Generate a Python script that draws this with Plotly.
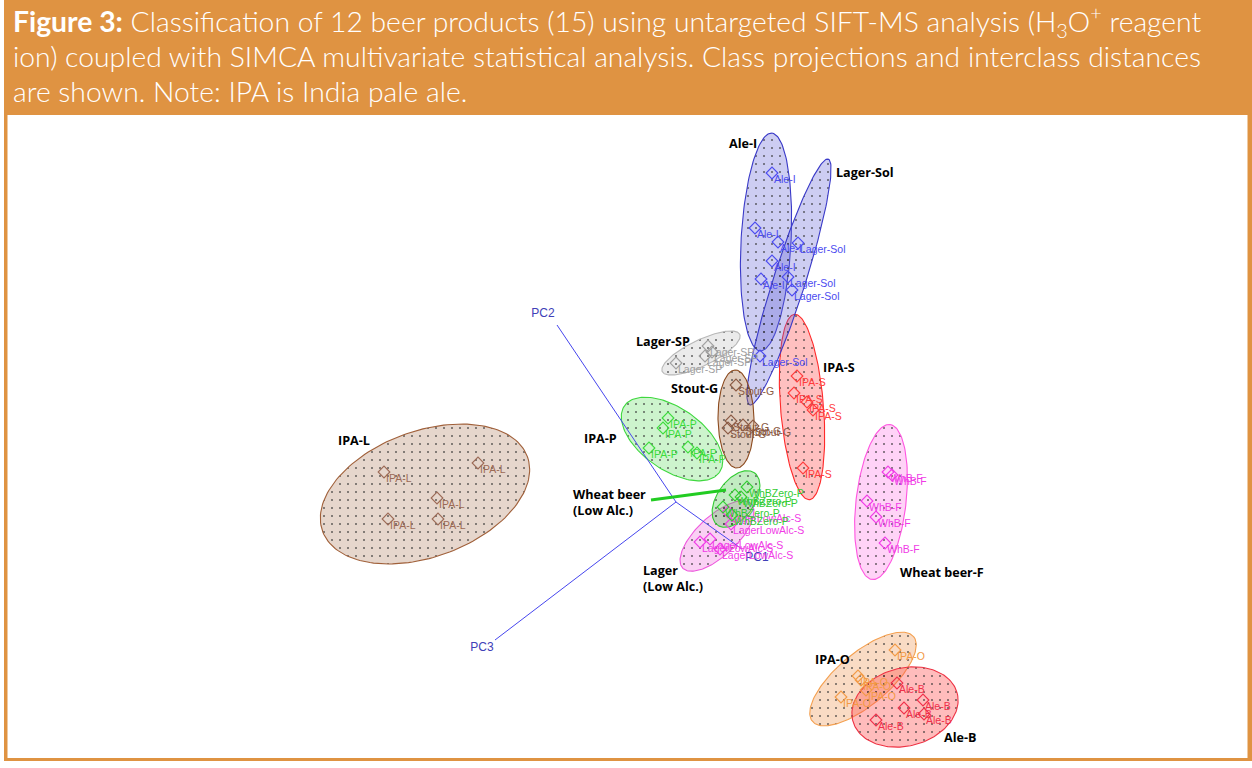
import numpy as np
import plotly.graph_objects as go

W, H = 1252, 768

# ---------------- data (picture coordinates) ----------------
class_names = ["IPA-L", "IPA-O", "Ale-B", "Wheat beer-F", "IPA-S", "Ale-I", "Lager-Sol",
               "Lager-SP", "Stout-G", "IPA-P", "Lager (Low Alc.)", "Wheat beer (Low Alc.)"]
point_codes = ["IPA-L", "IPA-O", "Ale-B", "WhB-F", "IPA-S", "Ale-I", "Lager-Sol",
               "Lager-SP", "Stout-G", "IPA-P", "LagerLowAlc-S", "WhBZero-P"]

# class confidence ellipses: centre, semi-axes, tilt (deg, counter-clockwise on screen)
ell_cx = [425, 863, 905, 881, 802, 766, 789, 701, 736, 672, 717, 736]
ell_cy = [494, 679, 707, 502, 407, 242, 282, 353, 419, 439, 536, 499]
ell_a = [109, 66, 54, 78, 93, 109, 129, 43, 49, 58, 47, 32]
ell_b = [63, 26, 39, 25, 21.5, 25, 16, 13, 18, 31, 20, 18.7]
ell_ang = [20, 40, 15, 83.4, 94.6, 87, 72.3, 25.7, 91, -35, 43, 55]

# sample projections per class
ipa_l_x = [384, 478, 437, 388, 438]
ipa_l_y = [472, 463, 498, 519, 519]
ipa_o_x = [895, 858, 861, 841, 866]
ipa_o_y = [650, 676, 680, 697, 690]
ale_b_x = [897, 923, 904, 924, 876]
ale_b_y = [683, 700, 708, 714, 720]
whb_f_x = [888, 892, 867, 876, 885]
whb_f_y = [472, 475, 501, 517, 543]
ipa_s_x = [797, 794, 807, 813, 803]
ipa_s_y = [376, 393, 402, 410, 468]
ale_i_x = [772, 755, 778, 772, 761]
ale_i_y = [173, 228, 242, 261, 279]
lager_sol_x = [798, 788, 792, 760]
lager_sol_y = [243, 277, 290, 356]
lager_sp_x = [676, 708, 705, 712]
lager_sp_y = [363, 346, 356, 352]
stout_g_x = [736, 731, 728, 743, 753]
stout_g_y = [385, 421, 428, 425, 426]
ipa_p_x = [668, 663, 649, 688, 697]
ipa_p_y = [418, 428, 448, 447, 453]
lager_low_x = [728, 731, 700, 710, 720]
lager_low_y = [512, 524, 542, 539, 549]
whb_zero_x = [747, 735, 741, 723, 732]
whb_zero_y = [487, 495, 497, 507, 515]

points_x = [ipa_l_x, ipa_o_x, ale_b_x, whb_f_x, ipa_s_x, ale_i_x, lager_sol_x,
            lager_sp_x, stout_g_x, ipa_p_x, lager_low_x, whb_zero_x]
points_y = [ipa_l_y, ipa_o_y, ale_b_y, whb_f_y, ipa_s_y, ale_i_y, lager_sol_y,
            lager_sp_y, stout_g_y, ipa_p_y, lager_low_y, whb_zero_y]

# principal component axes (origin + ends)
pc_names = ["PC1", "PC2", "PC3"]
pc_origin = (676, 502)
pc_end_x = [742, 557, 495]
pc_end_y = [549, 325, 640]
pc_label_x = [757, 543, 482]
pc_label_y = [558, 314, 648]

# interclass pointer for wheat beer (low alc.)
pointer_x = [651, 726]
pointer_y = [500, 490]

# class name labels
name_text = ["IPA-L", "IPA-O", "Ale-B", "Wheat beer-F", "IPA-S", "Ale-I", "Lager-Sol",
             "Lager-SP", "Stout-G", "IPA-P", "Lager<br>(Low Alc.)", "Wheat beer<br>(Low Alc.)"]
name_x = [336, 813, 942, 898, 821, 727, 834, 634, 669, 582, 641, 571]
name_y = [440, 659, 737, 572, 367, 143, 172, 341, 388, 438, 578, 502]

title_lines = [
    "<b>Figure 3:</b> Classification of 12 beer products (15) using untargeted SIFT-MS analysis (H<sub>3</sub>O<sup>+</sup> reagent",
    "ion) coupled with SIMCA multivariate statistical analysis. Class projections and interclass distances",
    "are shown. Note: IPA is India pale ale.",
]

# ---------------- styles ----------------
edge_col = ["#a0603a", "#f4a050", "#ee3344", "#ff55e0", "#ff2a2a", "#3a3ac8", "#3a3ac8",
            "#b8b8b8", "#8b4a1e", "#3fd83f", "#ee55dd", "#33cc33"]
fill_col = ["rgba(180,130,100,0.33)", "rgba(240,160,100,0.38)", "rgba(255,80,80,0.38)",
            "rgba(255,110,230,0.30)", "rgba(255,90,90,0.38)", "rgba(100,100,215,0.32)",
            "rgba(100,100,215,0.32)", "rgba(190,190,190,0.30)", "rgba(165,110,70,0.35)",
            "rgba(90,220,90,0.30)", "rgba(240,100,220,0.30)", "rgba(80,200,80,0.35)"]
pt_col = ["#9c6a56", "#f39a45", "#f0304a", "#f03ce6", "#ff3b3b", "#4b4bf0", "#4b4bf0",
          "#a0a0a0", "#8a5a44", "#3ddc3d", "#f03ce6", "#33cc33"]

ORANGE = "#DF9342"


def ellipse_xy(cx, cy, a, b, ang):
    t = np.linspace(0, 2 * np.pi, 160)
    th = np.deg2rad(ang)
    x = cx + a * np.cos(t) * np.cos(th) - b * np.sin(t) * np.sin(th)
    y = cy - (a * np.cos(t) * np.sin(th) + b * np.sin(t) * np.cos(th))
    return x, y


fig = go.Figure()

# ellipses
for i, nm in enumerate(class_names):
    ex, ey = ellipse_xy(ell_cx[i], ell_cy[i], ell_a[i], ell_b[i], ell_ang[i])
    fig.add_trace(go.Scatter(
        x=ex, y=ey, mode="lines", fill="toself", fillcolor=fill_col[i],
        fillpattern=dict(shape=".", size=8, solidity=0.05, fgcolor="rgba(50,50,50,0.75)",
                         bgcolor=fill_col[i], fillmode="replace"),
        line=dict(color=edge_col[i], width=1.1), hoverinfo="skip", name=nm))

# PC axes
for i, pc in enumerate(pc_names):
    fig.add_trace(go.Scatter(x=[pc_origin[0], pc_end_x[i]], y=[pc_origin[1], pc_end_y[i]],
                             mode="lines", line=dict(color="#4646ee", width=1),
                             hoverinfo="skip", name=pc))
fig.add_trace(go.Scatter(x=pc_label_x, y=pc_label_y, mode="text", text=pc_names,
                         textfont=dict(family="Liberation Sans, Arial", size=12, color="#4040b8"),
                         textposition="middle center", hoverinfo="skip"))

# pointer line
fig.add_trace(go.Scatter(x=pointer_x, y=pointer_y, mode="lines",
                         line=dict(color="#22cc22", width=3), hoverinfo="skip"))

# sample markers + labels
for i, nm in enumerate(class_names):
    px = np.array(points_x[i], dtype=float)
    py = np.array(points_y[i], dtype=float)
    fig.add_trace(go.Scatter(x=px, y=py, mode="markers",
                             marker=dict(symbol="diamond-open", size=9, color=pt_col[i],
                                         line=dict(width=1.1, color=pt_col[i])),
                             hoverinfo="skip", name=nm))
    fig.add_trace(go.Scatter(x=px + 2, y=py + 7, mode="text",
                             text=[point_codes[i]] * len(px), textposition="middle right",
                             textfont=dict(family="Liberation Sans, Arial", size=10.5,
                                           color=pt_col[i]),
                             hoverinfo="skip"))

# header band and frame
shapes = [
    dict(type="rect", xref="x", yref="y", x0=4, x1=1252, y0=0, y1=761,
         fillcolor=ORANGE, line=dict(width=0), layer="below"),
    dict(type="rect", xref="x", yref="y", x0=7.5, x1=1247.5, y0=115, y1=758,
         fillcolor="white", line=dict(width=0), layer="below"),
]

annotations = []
title_y = [21, 56, 91]
for ln, ty in zip(title_lines, title_y):
    annotations.append(dict(x=11, y=ty, xref="x", yref="y", text=ln, showarrow=False,
                            xanchor="left", yanchor="middle",
                            font=dict(family="Lato", size=28.3, color="white", weight=300)))
for t, nx, ny in zip(name_text, name_x, name_y):
    annotations.append(dict(x=nx, y=ny, xref="x", yref="y", text=t, showarrow=False,
                            xanchor="left", yanchor="middle", align="left",
                            font=dict(family="Open Sans", size=12.6, color="black", weight="bold")))

fig.update_layout(
    width=W, height=H, margin=dict(l=0, r=0, t=0, b=0),
    paper_bgcolor="white", plot_bgcolor="white", showlegend=False,
    xaxis=dict(range=[0, W], visible=False, fixedrange=True),
    yaxis=dict(range=[H, 0], visible=False, fixedrange=True),
    shapes=shapes, annotations=annotations,
)

fig.write_html("out.html", config={"displayModeBar": False},
               post_script="document.body.style.margin='0';document.body.style.overflow='hidden';")
